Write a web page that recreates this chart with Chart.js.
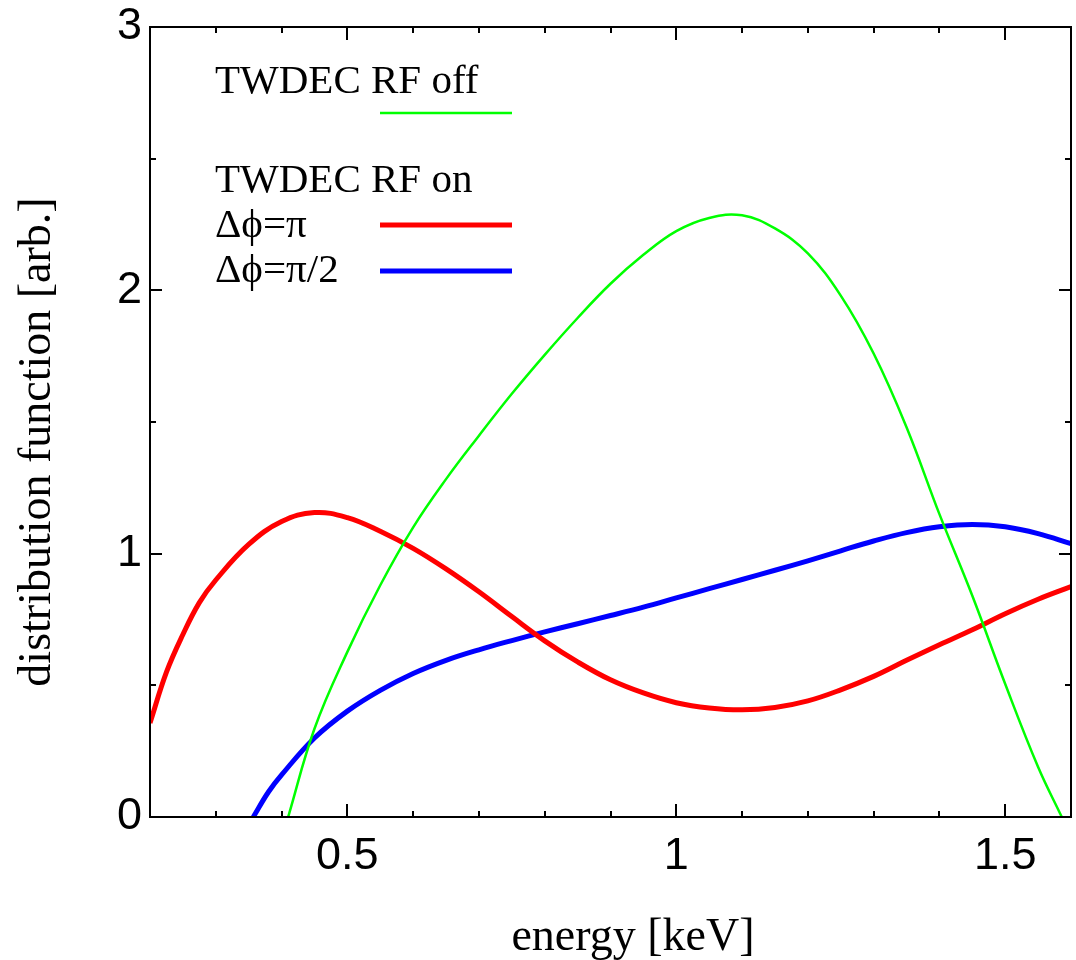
<!DOCTYPE html>
<html>
<head>
<meta charset="utf-8">
<script src="https://cdn.jsdelivr.net/npm/chart.js@4.4.0/dist/chart.umd.min.js"></script>
<style>
  html, body { margin: 0; padding: 0; background: #fff; }
</style>
</head>
<body>
<canvas id="myChart" width="1076" height="960"></canvas>
<script>
// tick labels
const xTickLabels = [0.5, 1, 1.5];
const yTickLabels = [0, 1, 2, 3];

// TWDEC RF off (green)
const offEnergy = [0.41, 0.45, 0.5, 0.55, 0.6, 0.65, 0.7, 0.75, 0.8, 0.85, 0.9, 0.95, 1.0, 1.05, 1.1, 1.15, 1.2, 1.25, 1.3, 1.35, 1.4, 1.45, 1.5, 1.55, 1.586];
const offValues = [0, 0.335, 0.627, 0.88, 1.1, 1.283, 1.448, 1.607, 1.755, 1.895, 2.025, 2.135, 2.225, 2.275, 2.285, 2.235, 2.14, 1.98, 1.76, 1.48, 1.15, 0.84, 0.505, 0.19, 0];

// TWDEC RF on, dphi = pi (red)
const piEnergy = [0.2, 0.225, 0.25, 0.275, 0.3, 0.35, 0.4, 0.45, 0.5, 0.55, 0.6, 0.65, 0.7, 0.75, 0.8, 0.85, 0.9, 0.95, 1.0, 1.05, 1.1, 1.15, 1.2, 1.25, 1.3, 1.35, 1.4, 1.45, 1.5, 1.55, 1.6];
const piValues = [0.357, 0.55, 0.693, 0.814, 0.9, 1.035, 1.122, 1.156, 1.137, 1.085, 1.02, 0.942, 0.855, 0.761, 0.669, 0.589, 0.521, 0.471, 0.434, 0.414, 0.407, 0.416, 0.441, 0.483, 0.534, 0.595, 0.654, 0.711, 0.772, 0.827, 0.875];

// TWDEC RF on, dphi = pi/2 (blue)
const halfPiEnergy = [0.357, 0.38, 0.4, 0.45, 0.5, 0.55, 0.6, 0.65, 0.7, 0.75, 0.8, 0.85, 0.9, 0.95, 1.0, 1.05, 1.1, 1.15, 1.2, 1.25, 1.3, 1.35, 1.4, 1.45, 1.5, 1.55, 1.6];
const halfPiValues = [0, 0.095, 0.16, 0.3, 0.402, 0.481, 0.545, 0.595, 0.635, 0.67, 0.703, 0.734, 0.765, 0.797, 0.832, 0.867, 0.902, 0.937, 0.973, 1.011, 1.048, 1.08, 1.102, 1.111, 1.102, 1.076, 1.038];

const legendHeaders = ["TWDEC RF off", "TWDEC RF on"];
const seriesLabels = ["TWDEC RF off", "\u0394\u03d5=\u03c0", "\u0394\u03d5=\u03c0/2"];
const seriesColors = ["#00ff00", "#ff0000", "#0000ff"];
const xTitle = "energy [keV]";
const yTitle = "distribution function [arb.]";

function toPoints(xs, ys) {
  return xs.map((x, i) => ({ x: x, y: ys[i] }));
}

function isLabelled(list, v) {
  return list.some((t) => Math.abs(t - v) < 1e-6);
}

// frame with inward ticks on all four sides, plus axis titles
const framePlugin = {
  id: "frame",
  afterDatasetsDraw(chart) {
    const ctx = chart.ctx;
    const a = chart.chartArea;
    const xs = chart.scales.x;
    const ys = chart.scales.y;
    ctx.save();
    ctx.strokeStyle = "#000";
    ctx.lineWidth = 2;
    ctx.strokeRect(a.left, a.top, a.right - a.left, a.bottom - a.top);
    ctx.beginPath();
    xs.ticks.forEach((t) => {
      const px = Math.round(xs.getPixelForValue(t.value));
      const len = isLabelled(xTickLabels, t.value) ? 13 : 6;
      ctx.moveTo(px, a.bottom);
      ctx.lineTo(px, a.bottom - len);
      ctx.moveTo(px, a.top);
      ctx.lineTo(px, a.top + len);
    });
    ys.ticks.forEach((t) => {
      const py = Math.round(ys.getPixelForValue(t.value));
      const len = isLabelled(yTickLabels, t.value) ? 12 : 6;
      ctx.moveTo(a.left, py);
      ctx.lineTo(a.left + len, py);
      ctx.moveTo(a.right, py);
      ctx.lineTo(a.right - len, py);
    });
    ctx.stroke();

    // axis titles sit a bit off the plot middle in the original
    ctx.font = "46px 'Liberation Serif'";
    ctx.fillStyle = "#000";
    ctx.textAlign = "center";
    ctx.textBaseline = "alphabetic";
    ctx.fillText(xTitle, 633, 950);

    ctx.translate(38, 442);
    ctx.rotate(-Math.PI / 2);
    ctx.textBaseline = "middle";
    ctx.fillText(yTitle, 0, 0);
    ctx.restore();
  },
};

// legend: two headers, sample lines on the right
const legendPlugin = {
  id: "customLegend",
  afterDraw(chart) {
    const ctx = chart.ctx;
    const sets = chart.data.datasets;
    ctx.save();
    ctx.font = "41px 'Liberation Serif', 'DejaVu Serif'";
    ctx.fillStyle = "#000";
    ctx.textBaseline = "alphabetic";
    ctx.textAlign = "left";
    ctx.fillText(legendHeaders[0], 215, 93);
    ctx.fillText(legendHeaders[1], 215, 192);
    ctx.fillText(seriesLabels[1], 215, 237);
    ctx.fillText(seriesLabels[2], 215, 282);
    const rows = [113, 225, 271];
    rows.forEach((y, i) => {
      ctx.strokeStyle = sets[i].borderColor;
      ctx.lineWidth = sets[i].borderWidth;
      ctx.beginPath();
      ctx.moveTo(380, y);
      ctx.lineTo(512, y);
      ctx.stroke();
    });
    ctx.restore();
  },
};

const ctx = document.getElementById("myChart");

new Chart(ctx, {
  type: "line",
  data: {
    datasets: [
      {
        label: seriesLabels[0],
        data: toPoints(offEnergy, offValues),
        borderColor: seriesColors[0],
        borderWidth: 2.5,
      },
      {
        label: seriesLabels[1],
        data: toPoints(piEnergy, piValues),
        borderColor: seriesColors[1],
        borderWidth: 5,
      },
      {
        label: seriesLabels[2],
        data: toPoints(halfPiEnergy, halfPiValues),
        borderColor: seriesColors[2],
        borderWidth: 5,
      },
    ],
  },
  options: {
    responsive: false,
    animation: false,
    devicePixelRatio: 1,
    elements: {
      point: { radius: 0 },
      line: { tension: 0.4, fill: false },
    },
    layout: { padding: { top: 27, right: 5, left: 0, bottom: 0 } },
    plugins: {
      legend: { display: false },
      tooltip: { enabled: false },
    },
    scales: {
      x: {
        type: "linear",
        min: 0.2,
        max: 1.6,
        afterFit: (s) => {
          s.height = 143;
          s.paddingLeft = 0;
          s.paddingRight = 0;
        },
        grid: { display: false },
        border: { display: false },
        ticks: {
          stepSize: 0.1,
          autoSkip: false,
          maxRotation: 0,
          padding: 9,
          color: "#000",
          font: { family: "'Liberation Sans'", size: 45, lineHeight: 1 },
          callback: function (value) {
            return isLabelled(xTickLabels, value) ? String(Math.round(value * 10) / 10) : "";
          },
        },
      },
      y: {
        min: 0,
        max: 3,
        afterFit: (s) => {
          s.width = 150;
          s.paddingTop = 0;
          s.paddingBottom = 0;
        },
        grid: { display: false },
        border: { display: false },
        ticks: {
          stepSize: 0.5,
          autoSkip: false,
          padding: 0,
          color: "#000",
          font: { family: "'Liberation Sans'", size: 45, lineHeight: 1 },
          callback: function (value) {
            return isLabelled(yTickLabels, value) ? String(Math.round(value)) : "";
          },
        },
      },
    },
  },
  plugins: [framePlugin, legendPlugin],
});
</script>
</body>
</html>
